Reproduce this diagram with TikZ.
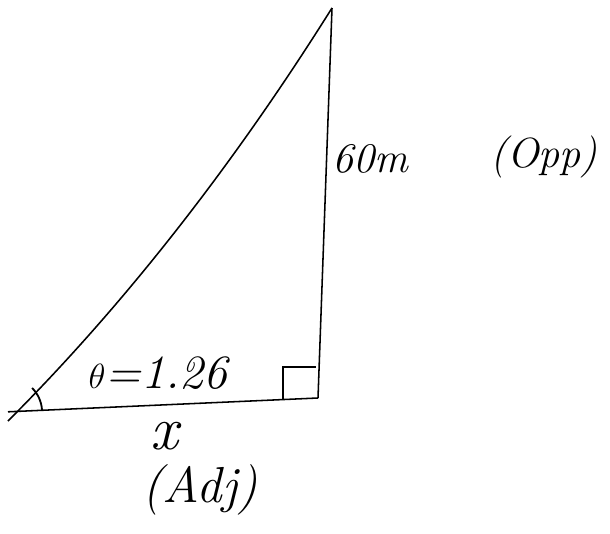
\documentclass[tikz,border=0pt]{standalone}
\usepackage{tikz}
\usetikzlibrary{positioning, calc}

\begin{document}
\begin{tikzpicture}[
        side/.style={line width=1.1pt, black},
        note/.style={font=\fontsize{30}{34}\selectfont\itshape, inner sep=1pt},
        tick/.style={line width=1.3pt, black}
    ]
        \useasboundingbox (0,0) rectangle (15.25,13.325);

        \coordinate (A) at (0.2,3.03);
        \coordinate (foot) at (0.2,2.8);
        \coordinate (B) at (7.95,3.375);
        \coordinate (C) at (8.3,13.125);

        \draw[side] (A) -- (B);
        \draw[side] (B) -- (C);
        \draw[side] (foot) .. controls (3.3,5.9) and (6.0,9.46) .. (C);

        % right angle and angle mark
        \draw[tick] (7.075,3.36) -- (7.075,4.15) -- (7.9,4.15);
        \draw[tick] ($(A)+(0.85,0.04)$) arc[start angle=3, end angle=45, radius=0.85];

        \node[note, font=\fontsize{34}{38}\selectfont\itshape] (theta) at (3.95,4.0) {$\theta$=1.26};
        \node[note] (opp) at (9.25,9.35) {60m};
        \node[note] (opplbl) at (13.6,9.4) {(Opp)};
        \node[note, font=\fontsize{44}{46}\selectfont\itshape, inner sep=0pt] (adj) at (4.1,2.42) {x};
        \node[note, font=\fontsize{36}{40}\selectfont\itshape, inner sep=0pt] (adjlbl) at (5.0,1.08) {(Adj)};
    \end{tikzpicture}
\end{document}
